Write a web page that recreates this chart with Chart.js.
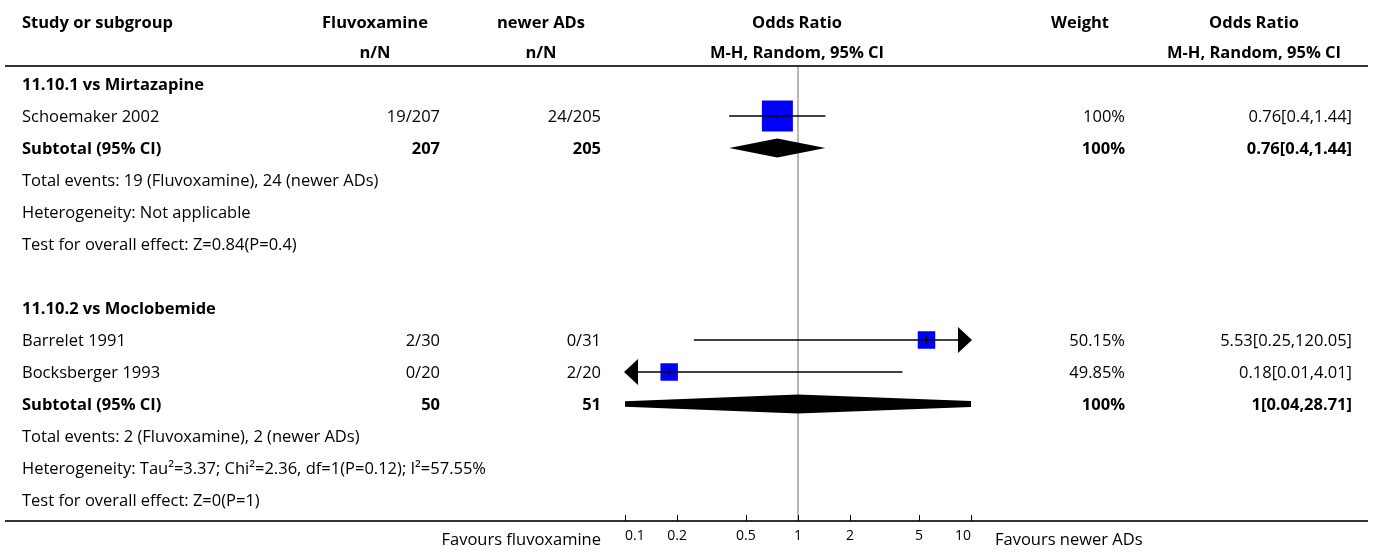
<!DOCTYPE html>
<html><head><meta charset="utf-8">
<script src="https://cdn.jsdelivr.net/npm/chart.js@4/dist/chart.umd.min.js"></script>
<style>html,body{margin:0;padding:0;background:#fff}#wrap{position:relative;width:1373px;height:552px}</style>
</head><body><div id="wrap"><canvas id="c"></canvas></div>
<script>
// ---- data ----
const subgroupTitles = ['11.10.1 vs Mirtazapine', '11.10.2 vs Moclobemide'];
const studyNames = ['Schoemaker 2002', 'Barrelet 1991', 'Bocksberger 1993'];
const studyGroup = [0, 1, 1];
const fluvoxEvents = [19, 2, 0];
const fluvoxTotal = [207, 30, 20];
const newerEvents = [24, 0, 2];
const newerTotal = [205, 31, 20];
const studyOR = [0.76, 5.53, 0.18];
const studyLo = [0.4, 0.25, 0.01];
const studyHi = [1.44, 120.05, 4.01];
const studyWeight = [100, 50.15, 49.85];
const subFluvoxTotal = [207, 50];
const subNewerTotal = [205, 51];
const subFluvoxEvents = [19, 2];
const subNewerEvents = [24, 2];
const subOR = [0.76, 1];
const subLo = [0.4, 0.04];
const subHi = [1.44, 28.71];
const subWeight = [100, 100];
const heterogeneityText = ['Not applicable', 'Tau\u00B2=3.37; Chi\u00B2=2.36, df=1(P=0.12); I\u00B2=57.55%'];
const overallEffectText = ['Z=0.84(P=0.4)', 'Z=0(P=1)'];
const tickValues = [0.1, 0.2, 0.5, 1, 2, 5, 10];
const treatmentLabel = 'Fluvoxamine';
const controlLabel = 'newer ADs';
const favoursLeft = 'Favours fluvoxamine';
const favoursRight = 'Favours newer ADs';

// ---- build rows ----
const rows = [];
subgroupTitles.forEach((t, g) => {
  rows.push({type: 'title', g});
  studyNames.forEach((n, i) => { if (studyGroup[i] === g) rows.push({type: 'study', i}); });
  rows.push({type: 'sub', g});
  rows.push({type: 'events', g});
  rows.push({type: 'het', g});
  rows.push({type: 'test', g});
  if (g < subgroupTitles.length - 1) rows.push({type: 'blank'});
});
const studyRow = studyNames.map((n, i) => rows.findIndex(r => r.type === 'study' && r.i === i));
const subRow = subgroupTitles.map((t, g) => rows.findIndex(r => r.type === 'sub' && r.g === g));

const F = '"Open Sans"';
const datasets = [];
// squares
datasets.push({
  type: 'scatter', order: 3,
  data: studyOR.map((v, i) => ({x: v, y: studyRow[i]})),
  pointStyle: 'rect',
  pointRadius: studyWeight.map(w => (4 + 27 * w / 100) / Math.SQRT2),
  backgroundColor: '#0000ff', borderWidth: 0
});
// CI lines
studyNames.forEach((n, i) => {
  datasets.push({
    type: 'line', order: 2,
    data: [{x: studyLo[i], y: studyRow[i]}, {x: studyHi[i], y: studyRow[i]}],
    borderColor: '#000', borderWidth: 1.3, pointRadius: 0, fill: false
  });
});
// centre ticks
datasets.push({
  type: 'scatter', order: 1,
  data: studyOR.map((v, i) => ({x: v, y: studyRow[i]})),
  pointStyle: 'line', rotation: 90, pointRadius: 4,
  borderColor: '#000', borderWidth: 1
});
// diamonds
const DH = 0.3;
subgroupTitles.forEach((t, g) => {
  const r = subRow[g];
  datasets.push({
    type: 'line', order: 4,
    data: [{x: subLo[g], y: r}, {x: subOR[g], y: r - DH}, {x: subHi[g], y: r}, {x: subOR[g], y: r + DH}, {x: subLo[g], y: r}],
    borderWidth: 0, borderColor: 'rgba(0,0,0,0)', backgroundColor: '#000', pointRadius: 0, fill: 'shape', tension: 0
  });
});

const tablePlugin = {
  id: 'table',
  beforeDatasetsDraw(chart) {
    const {ctx, chartArea: ca, scales: {x}} = chart;
    const px = x.getPixelForValue(1);
    ctx.save();
    ctx.strokeStyle = '#a0a0a0'; ctx.lineWidth = 1.5;
    ctx.beginPath(); ctx.moveTo(px, ca.top); ctx.lineTo(px, ca.bottom); ctx.stroke();
    ctx.restore();
  },
  afterDraw(chart) {
    const {ctx, chartArea: ca, scales: {x, y}} = chart;
    ctx.save();
    // rules
    ctx.strokeStyle = '#333'; ctx.lineWidth = 2;
    ctx.beginPath(); ctx.moveTo(5, ca.top); ctx.lineTo(1368, ca.top); ctx.stroke();
    ctx.beginPath(); ctx.moveTo(5, ca.bottom); ctx.lineTo(1368, ca.bottom); ctx.stroke();
    // tick marks
    ctx.lineWidth = 1; ctx.strokeStyle = '#000';
    tickValues.forEach(v => {
      const p = Math.round(x.getPixelForValue(v)) + 0.5;
      ctx.beginPath(); ctx.moveTo(p, ca.bottom - 6); ctx.lineTo(p, ca.bottom); ctx.stroke();
    });
    // arrows
    ctx.fillStyle = '#000';
    studyNames.forEach((n, i) => {
      const py = y.getPixelForValue(studyRow[i]);
      if (studyLo[i] < x.min) {
        ctx.beginPath(); ctx.moveTo(ca.left - 1, py); ctx.lineTo(ca.left + 13, py - 13); ctx.lineTo(ca.left + 13, py + 13); ctx.closePath(); ctx.fill();
      }
      if (studyHi[i] > x.max) {
        ctx.beginPath(); ctx.moveTo(ca.right + 1, py); ctx.lineTo(ca.right - 13, py - 13); ctx.lineTo(ca.right - 13, py + 13); ctx.closePath(); ctx.fill();
      }
    });
    // text
    ctx.fillStyle = '#000'; ctx.textBaseline = 'middle';
    const txt = (s, px, py, align, bold) => {
      ctx.font = (bold ? 'bold 16.5px ' : '16.5px ') + F;
      ctx.textAlign = align; ctx.fillText(s, px, py + 1.5);
    };
    const C = {name: 22, fluvox: 440, newer: 601, weight: 1125, or: 1352};
    const H = {fluvox: 375, newer: 541, plot: 797, weight: 1080, or: 1254};
    txt('Study or subgroup', C.name, 22, 'left', true);
    txt(treatmentLabel, H.fluvox, 22, 'center', true);
    txt(controlLabel, H.newer, 22, 'center', true);
    txt('Odds Ratio', H.plot, 22, 'center', true);
    txt('Weight', H.weight, 22, 'center', true);
    txt('Odds Ratio', H.or, 22, 'center', true);
    txt('n/N', H.fluvox, 52, 'center', true);
    txt('n/N', H.newer, 52, 'center', true);
    txt('M-H, Random, 95% CI', H.plot, 52, 'center', true);
    txt('M-H, Random, 95% CI', H.or, 52, 'center', true);
    const ciText = (o, l, h) => `${o}[${l},${h}]`;
    rows.forEach((r, k) => {
      const py = y.getPixelForValue(k);
      if (r.type === 'title') txt(subgroupTitles[r.g], C.name, py, 'left', true);
      else if (r.type === 'study') {
        const i = r.i;
        txt(studyNames[i], C.name, py, 'left', false);
        txt(`${fluvoxEvents[i]}/${fluvoxTotal[i]}`, C.fluvox, py, 'right', false);
        txt(`${newerEvents[i]}/${newerTotal[i]}`, C.newer, py, 'right', false);
        txt(`${studyWeight[i]}%`, C.weight, py, 'right', false);
        txt(ciText(studyOR[i], studyLo[i], studyHi[i]), C.or, py, 'right', false);
      } else if (r.type === 'sub') {
        const g = r.g;
        txt('Subtotal (95% CI)', C.name, py, 'left', true);
        txt(String(subFluvoxTotal[g]), C.fluvox, py, 'right', true);
        txt(String(subNewerTotal[g]), C.newer, py, 'right', true);
        txt(`${subWeight[g]}%`, C.weight, py, 'right', true);
        txt(ciText(subOR[g], subLo[g], subHi[g]), C.or, py, 'right', true);
      } else if (r.type === 'events') {
        txt(`Total events: ${subFluvoxEvents[r.g]} (${treatmentLabel}), ${subNewerEvents[r.g]} (${controlLabel})`, C.name, py, 'left', false);
      } else if (r.type === 'het') {
        txt('Heterogeneity: ' + heterogeneityText[r.g], C.name, py, 'left', false);
      } else if (r.type === 'test') {
        txt('Test for overall effect: ' + overallEffectText[r.g], C.name, py, 'left', false);
      }
    });
    txt(favoursLeft, 601, 539, 'right', false);
    txt(favoursRight, 995, 539, 'left', false);
    ctx.restore();
  }
};

new Chart(document.getElementById('c'), {
  type: 'scatter',
  data: {datasets},
  options: {
    responsive: true, maintainAspectRatio: false, animation: false,
    layout: {padding: {left: 625, right: 402, top: 66, bottom: 0}},
    plugins: {legend: {display: false}, tooltip: {enabled: false}},
    scales: {
      x: {
        type: 'logarithmic', min: 0.1, max: 10, position: 'bottom',
        afterBuildTicks: s => { s.ticks = tickValues.map(v => ({value: v})); },
        afterFit: s => { s.height = 31; },
        grid: {display: false, drawTicks: false}, border: {display: false},
        ticks: {autoSkip: false, maxRotation: 0, minRotation: 0, padding: 7, align: 'inner', color: '#000',
          font: {family: F, size: 14}, callback: v => String(v)}
      },
      y: {type: 'linear', reverse: true, min: -18 / 32, max: (521 - 84) / 32, display: false}
    }
  },
  plugins: [tablePlugin]
});
</script></body></html>
